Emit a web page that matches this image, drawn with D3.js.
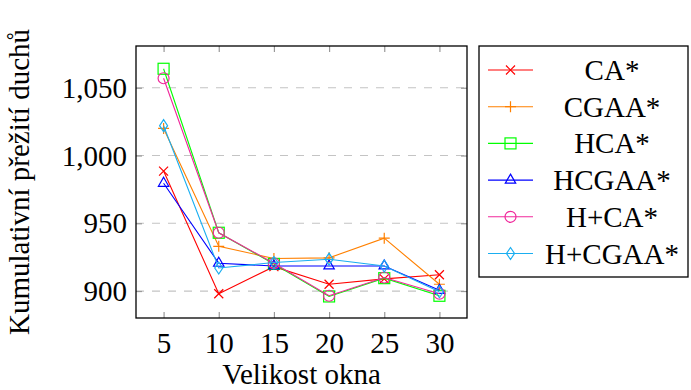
<!DOCTYPE html>
<html>
<head>
<meta charset="utf-8">
<script src="https://cdn.jsdelivr.net/npm/d3@7"></script>
<style>
  html, body { margin: 0; padding: 0; background: #fff; }
  svg { display: block; }
  svg text { font-family: "Liberation Serif", "Times New Roman", Tinos, Times, "DejaVu Serif", "Nimbus Roman", "FreeSerif", "Noto Serif", serif; fill: #000; }
</style>
</head>
<body>
<svg id="chart" width="691" height="390"></svg>
<script>
const windowSizes = [5, 10, 15, 20, 25, 30];
const seriesNames = ["CA*", "CGAA*", "HCA*", "HCGAA*", "H+CA*", "H+CGAA*"];
const caValues     = [988.5, 898, 918, 905, 909, 912];
const cgaaValues   = [1020, 933, 924, 924.5, 939, 905];
const hcaValues    = [1064, 943, 920, 896, 909.5, 896.5];
const hcgaaValues  = [979.5, 920.5, 918.5, 918.5, 918.5, 900.5];
const hpcaValues   = [1057, 943, 920.5, 896.5, 910, 898];
const hpcgaaValues = [1022, 917, 921, 923.5, 918.5, 899.5];
const yTicks = [900, 950, 1000, 1050];
const xLabel = "Velikost okna";
const yLabel = "Kumulativní přežití duchů";
const seriesColors = ["#ff0000", "#ff8000", "#00ff00", "#0000ff", "#f0289b", "#1aaef0"];
const seriesMarks = ["x", "plus", "square", "triangle", "circle", "diamond"];
const seriesValues = [caValues, cgaaValues, hcaValues, hcgaaValues, hpcaValues, hpcgaaValues];

const FONT = '"Liberation Serif", "Times New Roman", Tinos, Times, "DejaVu Serif", "Nimbus Roman", "FreeSerif", "Noto Serif", serif';
const svg = d3.select("#chart");
const L = 136, R = 467, T = 46, B = 318;
const x = d3.scaleLinear().domain([2.5, 32.5]).range([L, R]);
const y = d3.scaleLinear().domain([880.1, 1080.8]).range([B, T]);
const FS = 29;

svg.append("g").selectAll("line").data(yTicks).join("line")
  .attr("x1", L).attr("x2", R)
  .attr("y1", d => y(d)).attr("y2", d => y(d))
  .attr("stroke", "#c4c4c4").attr("stroke-width", 1.2)
  .attr("stroke-dasharray", "8,8");

const tickLen = 6;
function styleAxis(g) {
  g.attr("font-family", null).attr("font-size", null);
  g.select(".domain").remove();
  g.selectAll(".tick line").attr("stroke", "#999").attr("stroke-width", 1.2);
  g.selectAll(".tick text").style("font-family", FONT).style("font-size", FS + "px").attr("fill", "#000");
}
const gx = svg.append("g").attr("transform", `translate(0,${B})`)
  .call(d3.axisBottom(x).tickValues(windowSizes).tickSize(-tickLen).tickPadding(14).tickFormat(d3.format("d")));
styleAxis(gx);
const gxt = svg.append("g").attr("transform", `translate(0,${T})`)
  .call(d3.axisTop(x).tickValues(windowSizes).tickSize(-tickLen).tickFormat(""));
styleAxis(gxt);
const gy = svg.append("g").attr("transform", `translate(${L},0)`)
  .call(d3.axisLeft(y).tickValues(yTicks).tickSize(-tickLen).tickPadding(9).tickFormat(d3.format(",")));
styleAxis(gy);
gy.selectAll(".tick text").attr("dy", "0.33em");
const gyr = svg.append("g").attr("transform", `translate(${R},0)`)
  .call(d3.axisRight(y).tickValues(yTicks).tickSize(-tickLen).tickFormat(""));
styleAxis(gyr);

svg.append("rect").attr("x", L).attr("y", T).attr("width", R - L).attr("height", B - T)
  .attr("fill", "none").attr("stroke", "#000").attr("stroke-width", 1.3);

function drawMark(g, type, cx, cy, color) {
  const sw = 1.2;
  if (type === "x") {
    const s = 4.5;
    g.append("path").attr("d", `M${cx-s},${cy-s}L${cx+s},${cy+s}M${cx-s},${cy+s}L${cx+s},${cy-s}`)
      .attr("stroke", color).attr("stroke-width", sw).attr("fill", "none");
  } else if (type === "plus") {
    const s = 5.5;
    g.append("path").attr("d", `M${cx-s},${cy}L${cx+s},${cy}M${cx},${cy-s}L${cx},${cy+s}`)
      .attr("stroke", color).attr("stroke-width", sw).attr("fill", "none");
  } else if (type === "square") {
    const s = 5.5;
    g.append("rect").attr("x", cx - s).attr("y", cy - s).attr("width", 2*s).attr("height", 2*s)
      .attr("stroke", color).attr("stroke-width", sw).attr("fill", "none");
  } else if (type === "triangle") {
    const r = 6;
    g.append("path").attr("d", `M${cx},${cy-r}L${cx+r*0.866},${cy+r*0.5}L${cx-r*0.866},${cy+r*0.5}Z`)
      .attr("stroke", color).attr("stroke-width", sw).attr("fill", "none");
  } else if (type === "circle") {
    g.append("circle").attr("cx", cx).attr("cy", cy).attr("r", 5.5)
      .attr("stroke", color).attr("stroke-width", sw).attr("fill", "none");
  } else if (type === "diamond") {
    const w = 4, h = 6;
    g.append("path").attr("d", `M${cx},${cy-h}L${cx+w},${cy}L${cx},${cy+h}L${cx-w},${cy}Z`)
      .attr("stroke", color).attr("stroke-width", sw).attr("fill", "none");
  }
}

const line = d3.line().x((d, i) => x(windowSizes[i])).y(d => y(d));
seriesValues.forEach((vals, si) => {
  const g = svg.append("g");
  g.append("path").attr("d", line(vals)).attr("fill", "none")
    .attr("stroke", seriesColors[si]).attr("stroke-width", 1.1);
  vals.forEach((v, i) => drawMark(g, seriesMarks[si], x(windowSizes[i]), y(v), seriesColors[si]));
});

svg.append("text").attr("x", (L + R) / 2).attr("y", 384).attr("text-anchor", "middle")
  .style("font-family", FONT).style("font-size", FS + "px").text(xLabel);
svg.append("text").attr("transform", `translate(29,${(T + B) / 2}) rotate(-90)`)
  .attr("text-anchor", "middle").style("font-family", FONT).style("font-size", FS + "px").text(yLabel);

const lg = svg.append("g");
lg.append("rect").attr("x", 479).attr("y", 46).attr("width", 209).attr("height", 231)
  .attr("fill", "#fff").attr("stroke", "#000").attr("stroke-width", 1.3);
seriesNames.forEach((name, i) => {
  const ry = 70 + i * 36.7;
  lg.append("line").attr("x1", 488).attr("x2", 533).attr("y1", ry).attr("y2", ry)
    .attr("stroke", seriesColors[i]).attr("stroke-width", 1.1);
  drawMark(lg, seriesMarks[i], 510.5, ry, seriesColors[i]);
  lg.append("text").attr("x", 612).attr("y", ry + 10).attr("text-anchor", "middle")
    .style("font-family", FONT).style("font-size", FS + "px").text(name);
});
</script>
</body>
</html>
